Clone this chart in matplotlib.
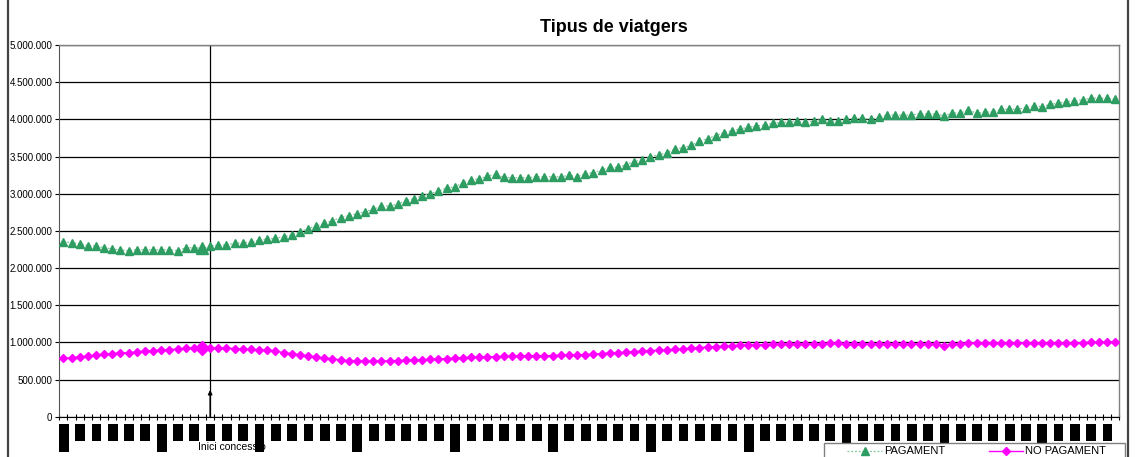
import matplotlib
matplotlib.use("Agg")
import matplotlib.pyplot as plt
from matplotlib.lines import Line2D
from matplotlib.patches import Rectangle
from matplotlib.ticker import FuncFormatter, MultipleLocator
import matplotlib.transforms as mtransforms

plt.rcParams['font.family'] = ['Liberation Sans', 'DejaVu Sans']

# Monthly passenger counts by ticket type
pagament = [
    2354000, 2341000, 2327000, 2300000, 2296000, 2273000, 2256000, 2242000, 2233000, 2246000,
    2246000, 2246000, 2246000, 2246000, 2233000, 2273000, 2273000, 2265000, 2296000, 2310000,
    2310000, 2333000, 2341000, 2346000, 2377000, 2390000, 2400000, 2421000, 2444000, 2489000,
    2530000, 2565000, 2601000, 2637000, 2677000, 2704000, 2731000, 2758000, 2790000, 2834000,
    2834000, 2861000, 2906000, 2933000, 2973000, 3000000, 3036000, 3076000, 3090000, 3148000,
    3180000, 3202000, 3234000, 3261000, 3220000, 3215000, 3215000, 3215000, 3228000, 3228000,
    3228000, 3228000, 3247000, 3228000, 3270000, 3281000, 3319000, 3355000, 3355000, 3390000,
    3430000, 3457000, 3493000, 3524000, 3551000, 3601000, 3619000, 3651000, 3705000, 3740000,
    3780000, 3821000, 3847000, 3870000, 3893000, 3911000, 3924000, 3947000, 3960000, 3960000,
    3974000, 3960000, 3974000, 4001000, 3974000, 3982000, 4001000, 4014000, 4014000, 4001000,
    4025000, 4058000, 4058000, 4054000, 4058000, 4076000, 4072000, 4072000, 4049000, 4085000,
    4085000, 4126000, 4081000, 4099000, 4099000, 4135000, 4135000, 4135000, 4157000, 4180000,
    4171000, 4202000, 4216000, 4237000, 4251000, 4260000, 4287000, 4283000, 4283000, 4270000,
]

no_pagament = [
    785000, 794000, 803000, 817000, 830000, 839000, 848000, 857000, 861000, 870000,
    884000, 888000, 897000, 901000, 911000, 920000, 924000, 928000, 924000, 924000,
    924000, 915000, 911000, 906000, 901000, 897000, 884000, 861000, 848000, 834000,
    821000, 803000, 790000, 776000, 763000, 752000, 749000, 745000, 745000, 749000,
    752000, 755000, 758000, 762000, 766000, 770000, 776000, 782000, 788000, 794000,
    800000, 803000, 806000, 808000, 810000, 812000, 814000, 816000, 818000, 820000,
    822000, 825000, 828000, 832000, 836000, 842000, 848000, 855000, 862000, 868000,
    874000, 880000, 886000, 892000, 898000, 905000, 912000, 920000, 928000, 936000,
    944000, 950000, 955000, 960000, 964000, 967000, 970000, 972000, 974000, 976000,
    978000, 980000, 982000, 984000, 985000, 986000, 984000, 980000, 978000, 980000,
    980000, 978000, 976000, 978000, 980000, 978000, 978000, 978000, 955000, 975000,
    980000, 995000, 995000, 995000, 995000, 995000, 995000, 995000, 995000, 995000,
    995000, 995000, 995000, 995000, 995000, 995000, 1000000, 1005000, 1009000, 1009000,
]

series_labels = ["PAGAMENT", "NO PAGAMENT"]
title = "Tipus de viatgers"
event_label = "Inici concessió"
event_index = 18      # month where the concession starts
highlight_index = 17  # highlighted month

W, H = 1138, 457
fig = plt.figure(figsize=(W / 100, H / 100), dpi=100)
ax = fig.add_axes([59.3 / W, 1 - 416.7 / H, 1060 / W, 371.7 / H])

x = list(range(len(pagament)))
green = "#2E9D62"
green_line = "#7FC99A"
magenta = "#FF00FF"
green_style = dict(color=green_line, linestyle=(0, (1.5, 1.5)), linewidth=0.9,
                   marker="^", markersize=5.5, markerfacecolor=green, markeredgecolor=green)
magenta_style = dict(color=magenta, linestyle="-", linewidth=1.0, marker="D",
                     markersize=4.2, markerfacecolor=magenta, markeredgecolor=magenta)

ax.plot(x, pagament, zorder=3, **green_style)
ax.plot(x, no_pagament, zorder=3, **magenta_style)

# enlarged markers for the highlighted month
ax.plot([highlight_index], [pagament[highlight_index]], marker="^", markersize=9,
        color=green, linestyle="none", zorder=4)
ax.plot([highlight_index], [no_pagament[highlight_index]], marker="D", markersize=7,
        color=magenta, linestyle="none", zorder=4)

ax.set_xlim(-0.5, len(x) - 0.5)
ax.set_ylim(0, 5000000)
ax.yaxis.set_major_locator(MultipleLocator(500000))
ax.yaxis.set_major_formatter(FuncFormatter(lambda v, p: f"{int(v):,}".replace(",", ".")))
ax.grid(axis="y", color="black", linewidth=0.9)
ax.set_axisbelow(True)

ax.set_xticks([i - 0.5 for i in range(len(x) + 1)])
ax.set_xticklabels([])
ax.tick_params(axis="x", direction="inout", length=4, width=0.8, color="black")
ax.tick_params(axis="y", direction="out", length=3, width=0.8, pad=2, labelsize=7,
               color="black")

for side in ("top", "right"):
    ax.spines[side].set_color("#808080")
    ax.spines[side].set_linewidth(1.0)
ax.spines["bottom"].set_color("black")
ax.spines["left"].set_color("#555555")

# event marker
ax.axvline(event_index, color="black", linewidth=0.9, zorder=2)
ax.annotate("", xy=(event_index, 360000), xytext=(event_index, 0),
            arrowprops=dict(arrowstyle="-|>", color="black", lw=1.0,
                            mutation_scale=6, shrinkA=0, shrinkB=0))

# tick label blocks along the category axis
blend = mtransforms.blended_transform_factory(ax.transData, fig.transFigure)
for i in range(0, len(x), 2):
    tall = i % 12 == 0
    y_top = 1 - 424 / H
    y_bot = 1 - (452 if tall else 441) / H
    ax.add_patch(Rectangle((i - 0.55, y_bot), 1.2, y_top - y_bot, transform=blend,
                           facecolor="black", edgecolor="none", clip_on=False, zorder=5))

fig.text(232 / W, 1 - 447 / H, event_label, fontsize=7.5, ha="center", va="center",
         color="black", zorder=4)

fig.text(614 / W, 1 - 28 / H, title, fontsize=13, fontweight="bold",
         ha="center", va="center")

# legend box at the lower right
def fx(px):
    return px / W


def fy(py):
    return 1 - py / H


fig.add_artist(Rectangle((fx(824), fy(475)), fx(1125) - fx(824), fy(442.7) - fy(475),
                         transform=fig.transFigure, facecolor="white",
                         edgecolor="#808080", linewidth=1.0, zorder=10))
ly = fy(451)
entries = [(847, 882, 884, green_style, series_labels[0]),
           (989, 1023, 1025, magenta_style, series_labels[1])]
for x0, x1, xt, style, label in entries:
    fig.add_artist(Line2D([fx(x0), fx(x1)], [ly, ly], transform=fig.transFigure,
                          zorder=11, **{k: v for k, v in style.items() if k != "marker"}))
    fig.add_artist(Line2D([fx((x0 + x1) / 2)], [ly], transform=fig.transFigure,
                          marker=style["marker"], markersize=style["markersize"],
                          markerfacecolor=style["markerfacecolor"],
                          markeredgecolor=style["markeredgecolor"], linestyle="none",
                          zorder=12))
    fig.text(fx(xt), ly, label, fontsize=8, ha="left", va="center", zorder=12)

# chart area border
for xf in (8 / W, 1128 / W):
    fig.add_artist(Line2D([xf, xf], [0, 1], transform=fig.transFigure,
                          color="#444444", linewidth=1.6))

fig.savefig("out.png", dpi=100)
